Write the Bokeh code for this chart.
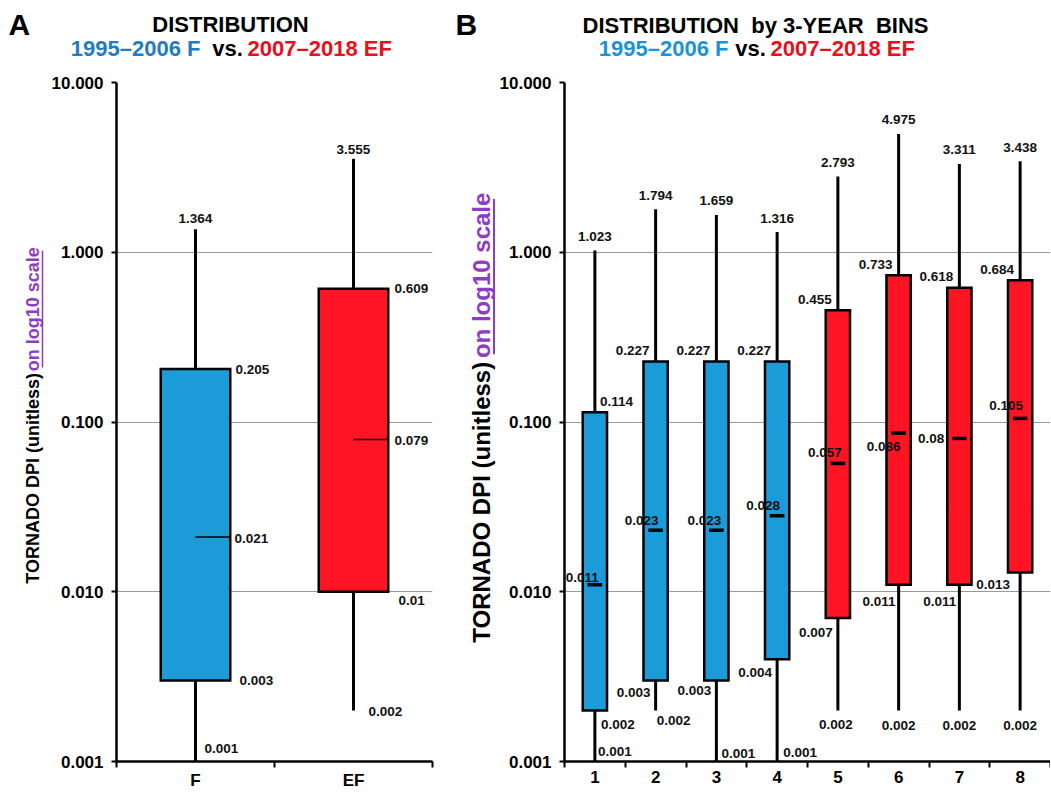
from math import pi
from bokeh.plotting import figure
from bokeh.models import (ColumnDataSource, FixedTicker, PrintfTickFormatter, LabelSet, Range1d)
from bokeh.layouts import row, column
from bokeh.core.properties import value
from bokeh.embed import file_html
from bokeh.resources import INLINE

FONT = "Liberation Sans"
BLUE = "#1b9bd8"
RED = "#ff1424"
PURPLE = "#8e3cc4"
T_BLUE_A = "#1f7dc0"
T_BLUE_B = "#1c93d6"
T_RED = "#e8101c"

# panel A: whole period, F vs EF
groups_a = ["F", "EF"]
max_a = [1.364, 3.555]
q3_a = [0.205, 0.609]
med_a = [0.021, 0.079]
q1_a = [0.003, 0.01]
min_a = [0.001, 0.002]

# panel B: 3-year bins
bins_b = ["1", "2", "3", "4", "5", "6", "7", "8"]
max_b = [1.023, 1.794, 1.659, 1.316, 2.793, 4.975, 3.311, 3.438]
q3_b = [0.114, 0.227, 0.227, 0.227, 0.455, 0.733, 0.618, 0.684]
med_b = [0.011, 0.023, 0.023, 0.028, 0.057, 0.086, 0.08, 0.105]
q1_b = [0.002, 0.003, 0.003, 0.004, 0.007, 0.011, 0.011, 0.013]
min_b = [0.001, 0.002, 0.001, 0.001, 0.002, 0.002, 0.002, 0.002]
scale_b = ["F", "F", "F", "F", "EF", "EF", "EF", "EF"]

y_ticks = [0.001, 0.01, 0.1, 1, 10]

# layout, in page pixels
TOTAL_W = 1050
TITLE_H = 70
H = 722
TOP, BOT = 12, 29
STRIP_A = (0, 48)
PANEL_A = (48, 440, 67, 8)      # canvas left, canvas right, border left, border right
STRIP_B = (440, 496)
PANEL_B = (496, 1050, 68, 0)

# value label placement: (align, dx, dy) in px, dy up
a_place = {
    "max": [("center", 0, 11), ("center", 0, 9)],
    "q3": [("left", 40, 0), ("left", 41, 0)],
    "med": [("left", 39, -1), ("left", 41, -1)],
    "q1": [("left", 44, 0), ("left", 45, -9)],
    "min": [("left", 9, 13), ("left", 15, -1)],
}
b_place = {
    "max": [("center", 0, 14)] * 8,
    "q3": [("left", 5, 11)] + [("right", -6, 11)] * 7,
    "med": [("right", 4, 7), ("right", 3, 10), ("right", 5, 10), ("right", 3, 10),
            ("right", 4, 11), ("right", 2, -13), ("right", -15, 0), ("right", 3, 13)],
    "q1": [("left", 6, -14), ("right", -5, -12), ("right", -5, -10), ("right", -5, -13),
           ("right", -5, -14), ("right", -3, -17), ("right", -3, -17), ("right", -10, -12)],
    "min": [("left", 3, 10), ("left", 1, -10), ("left", 5, 8), ("left", 6, 9),
            ("center", -2, -14), ("center", 0, -15), ("center", 0, -15), ("center", 0, -15)],
}


def make_panel(cats, mx, q3, med, q1, mn, colors, geom, half, med_style, place):
    left, right, bl, br = geom
    n = len(cats)
    xs = list(range(1, n + 1))
    p = figure(width=right - left, height=H, x_range=Range1d(0.5, n + 0.5), y_range=Range1d(0.001, 10),
               y_axis_type="log", output_backend="svg", toolbar_location=None,
               min_border_left=bl, min_border_right=br, min_border_top=TOP, min_border_bottom=BOT)
    p.outline_line_color = None
    p.xgrid.grid_line_color = None
    p.ygrid.ticker = FixedTicker(ticks=y_ticks)
    p.ygrid.grid_line_color = "#9a9a9a"
    p.ygrid.grid_line_width = 1

    p.yaxis.ticker = FixedTicker(ticks=y_ticks)
    p.yaxis.formatter = PrintfTickFormatter(format="%.3f")
    p.xaxis.ticker = FixedTicker(ticks=xs, minor_ticks=[i + 0.5 for i in range(n + 1)])
    p.xaxis.major_label_overrides = {i + 1: c for i, c in enumerate(cats)}
    for ax in (p.xaxis, p.yaxis):
        ax.axis_line_color = "black"
        ax.axis_line_width = 2.5
        ax.major_tick_line_color = "black"
        ax.major_tick_line_width = 2
        ax.minor_tick_line_color = "black"
        ax.minor_tick_line_width = 2
        ax.major_label_text_font = FONT
        ax.major_label_text_font_style = "bold"
        ax.major_label_text_font_size = "17px"
        ax.major_label_text_color = "black"
    p.yaxis.major_tick_out = 5
    p.yaxis.major_tick_in = 0
    p.yaxis.minor_tick_line_color = None
    p.yaxis.major_label_standoff = 8
    p.xaxis.major_tick_out = 0
    p.xaxis.major_tick_in = 0
    p.xaxis.minor_tick_out = 6
    p.xaxis.minor_tick_in = 0
    p.xaxis.major_label_standoff = 3

    src = ColumnDataSource(dict(x=xs, mx=mx, q3=q3, med=med, q1=q1, mn=mn, color=colors,
                                left=[x - half for x in xs], right=[x + half for x in xs]))
    p.segment(x0="x", y0="mn", x1="x", y1="mx", source=src, line_color="black", line_width=3)
    p.quad(left="left", right="right", bottom="q1", top="q3", source=src,
           fill_color="color", line_color="black", line_width=2.5, line_join="miter")
    if med_style == "half":
        p.segment(x0="x", y0="med", x1="right", y1="med", source=src, line_color="black", line_width=1.5)
    else:
        p.segment(x0=[x - 0.12 for x in xs], y0=med, x1=[x + 0.12 for x in xs], y1=med,
                  line_color="black", line_width=3.5)

    groups = {"left": ([], [], [], [], []), "right": ([], [], [], [], []), "center": ([], [], [], [], [])}
    for key, vals in (("max", mx), ("q3", q3), ("med", med), ("q1", q1), ("min", mn)):
        for i, v in enumerate(vals):
            align, dx, dy = place[key][i]
            g = groups[align]
            g[0].append(xs[i])
            g[1].append(v)
            g[2].append(str(v))
            g[3].append(dx)
            g[4].append(dy)
    for align, g in groups.items():
        if not g[0]:
            continue
        ls = ColumnDataSource(dict(x=g[0], y=g[1], t=g[2], dx=g[3], dy=g[4]))
        p.add_layout(LabelSet(x="x", y="y", text="t", x_offset="dx", y_offset="dy", source=ls,
                              text_align=align, text_baseline="middle", text_font=value(FONT),
                              text_font_style="bold", text_font_size="13.5px", text_color="#111111"))
    return p


def blank(x0, x1, y_top, y_bottom):
    # plain drawing surface whose data units are page pixels
    p = figure(width=x1 - x0, height=y_bottom - y_top, x_range=Range1d(x0, x1),
               y_range=Range1d(y_bottom, y_top), x_axis_type=None, y_axis_type=None,
               output_backend="svg", toolbar_location=None, min_border=0)
    p.outline_line_color = None
    p.grid.grid_line_color = None
    return p


def put(p, x, y, text, align="left", size="22px", color="black", angle=0.0):
    p.text(x=[x], y=[y], text=[text], angle=angle, text_align=align, text_baseline="middle",
           text_font=value(FONT), text_font_style="bold", text_font_size=size, text_color=color)


colors_a = [BLUE, RED]
colors_b = [BLUE if s == "F" else RED for s in scale_b]

pa = make_panel(groups_a, max_a, q3_a, med_a, q1_a, min_a, colors_a, PANEL_A, 0.22, "half", a_place)
pb = make_panel(bins_b, max_b, q3_b, med_b, q1_b, min_b, colors_b, PANEL_B, 0.2, "dash", b_place)

# headings
pt = blank(0, TOTAL_W, 0, TITLE_H)
put(pt, 8, 24, "A", size="30px")
put(pt, 230, 24, "DISTRIBUTION", align="center")
put(pt, 200, 48, "1995–2006 F", align="right", color=T_BLUE_A)
put(pt, 227, 48, "vs.", align="center")
put(pt, 247, 48, "2007–2018 EF", align="left", color=T_RED)
put(pt, 455, 24, "B", size="30px")
put(pt, 755, 25, "DISTRIBUTION\u00a0 by 3-YEAR\u00a0 BINS", align="center")
put(pt, 728, 48, "1995–2006 F", align="right", color=T_BLUE_B)
put(pt, 750, 48, "vs.", align="center")
put(pt, 770, 48, "2007–2018 EF", align="left", color=T_RED)

# y-axis titles: both parts anchored near their junction, reading bottom to top
sa = blank(STRIP_A[0], STRIP_A[1], TITLE_H, TITLE_H + H)
put(sa, 32, 379, "TORNADO DPI (unitless)", align="right", size="18px", angle=pi / 2)
put(sa, 32, 377, "on log10 scale", align="left", size="18px", angle=pi / 2, color=PURPLE)
sa.segment(x0=[42], y0=[373], x1=[42], y1=[249], line_color=PURPLE, line_width=1.5)

sb = blank(STRIP_B[0], STRIP_B[1], TITLE_H, TITLE_H + H)
put(sb, 481, 367, "TORNADO DPI (unitless)", align="right", size="24px", angle=pi / 2)
put(sb, 481, 363, "on log10 scale", align="left", size="24px", angle=pi / 2, color=PURPLE)
sb.segment(x0=[493.5], y0=[359], x1=[493.5], y1=[194], line_color=PURPLE, line_width=2)

layout = column(pt, row(sa, pa, sb, pb))
open("out.html", "w").write(file_html(layout, INLINE))
